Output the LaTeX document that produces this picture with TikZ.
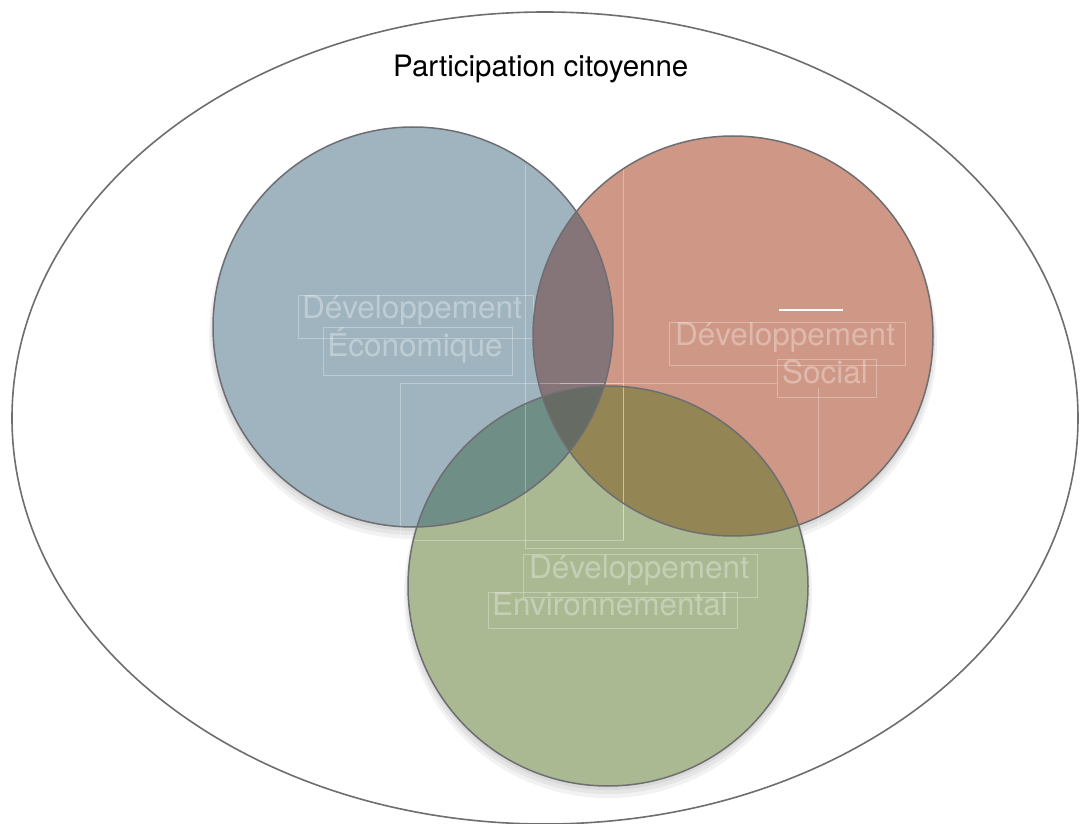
\documentclass[tikz,border=0pt]{standalone}
\usepackage{fontspec}
\setmainfont{TeX Gyre Heros}
\definecolor{ecoC}{HTML}{A0B4BF}
\definecolor{socC}{HTML}{CF9886}
\definecolor{envC}{HTML}{AAB992}
\definecolor{esC}{HTML}{857579}
\definecolor{eeC}{HTML}{6E8E86}
\definecolor{seC}{HTML}{948654}
\definecolor{allC}{HTML}{666B63}
\definecolor{edgeC}{HTML}{6E6E72}
\tikzset{
  venn edge/.style={draw=edgeC, line width=1.5pt},
  outer edge/.style={draw=edgeC, line width=1.6pt},
  lbl/.style={anchor=base, text=white, text opacity=0.32, font=\fontsize{31.5}{37}\selectfont, inner sep=0pt},
  ttl/.style={anchor=base west, text=black, font=\fontsize{29.5}{35}\selectfont, inner sep=0pt},
  ghost/.style={draw=white, draw opacity=0.3, line width=0.8pt},
  shadowring/.style={fill=black, fill opacity=0.05}
}
\begin{document}
\begin{tikzpicture}[x=1pt,y=-1pt]
\useasboundingbox (0,0) rectangle (1080,824);
\fill[white] (0,0) rectangle (1080,824);
\coordinate (oc) at (545,418);
\coordinate (eco) at (413,327);
\coordinate (soc) at (733,336);
\coordinate (env) at (608,586);
% outer ellipse
\draw[outer edge] (oc) ellipse [x radius=533, y radius=406];
\node[ttl] (title) at (393,77) {Participation citoyenne};
% soft shadows
\foreach \c in {eco,soc,env}{
  \fill[shadowring] ([yshift=-8pt]\c) circle [radius=204];
  \fill[shadowring] ([yshift=-6pt]\c) circle [radius=202];
  \fill[shadowring] ([yshift=-4pt]\c) circle [radius=200];
}
% base fills
\fill[ecoC] (eco) circle [radius=200];
\fill[socC] (soc) circle [radius=200];
\fill[envC] (env) circle [radius=200];
% pairwise overlaps
\begin{scope}
  \clip (eco) circle [radius=200];
  \fill[esC] (soc) circle [radius=200];
  \fill[eeC] (env) circle [radius=200];
\end{scope}
\begin{scope}
  \clip (soc) circle [radius=200];
  \fill[seC] (env) circle [radius=200];
\end{scope}
\begin{scope}
  \clip (eco) circle [radius=200];
  \clip (soc) circle [radius=200];
  \fill[allC] (env) circle [radius=200];
\end{scope}
% faint guide rectangles
\draw[ghost] (525,165) -- (525,548) -- (818,548) -- (818,388);
\draw[ghost] (623,165) -- (623,540);
\draw[ghost] (400,383) rectangle (623,540);
\draw[ghost] (298,295) rectangle (533,338);
\draw[ghost] (323,327) rectangle (512,375);
\draw[ghost] (669,322) rectangle (905,365);
\draw[ghost] (777,359) rectangle (876,397);
\draw[ghost] (560,383) -- (777,383);
\draw[ghost] (523,554) rectangle (757,597);
\draw[ghost] (488,592) rectangle (737,628);
% outlines
\draw[venn edge] (eco) circle [radius=200];
\draw[venn edge] (soc) circle [radius=200];
\draw[venn edge] (env) circle [radius=200];
% short white mark
\draw[white, line width=2pt] (779,310) -- (843,310);
% labels
\node[lbl] (ecoA) at (412,318) {Développement};
\node[lbl] (ecoB) at (415,356) {Économique};
\node[lbl] (socA) at (785,345) {Développement};
\node[lbl] (socB) at (825,383) {Social};
\node[lbl] (envA) at (639,578) {Développement};
\node[lbl] (envB) at (610,615) {Environnemental};
\end{tikzpicture}
\end{document}
